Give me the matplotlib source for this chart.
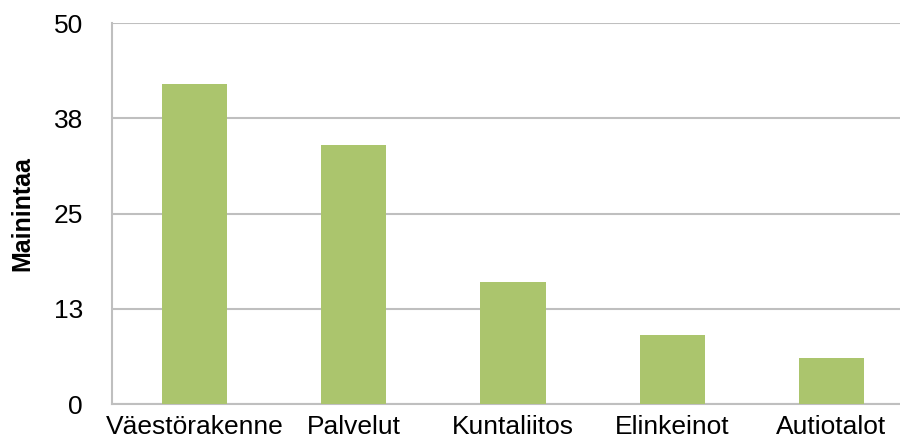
import numpy
from matplotlib import pyplot as plt

categories = ['Väestörakenne', 'Palvelut', 'Kuntaliitos', 'Elinkeinot', 'Autiotalot']
mentions = [42, 34, 16, 9, 6]
y_ticks = [0, 12.5, 25, 37.5, 50]
y_tick_labels = ['0', '13', '25', '38', '50']

plt.rcParams['font.family'] = ['Liberation Sans', 'DejaVu Sans']

fig = plt.figure(figsize=(9, 4.41), dpi=100)
ax = fig.add_axes([0.1244, 0.0839, 0.8756, 0.8639])

x = numpy.arange(len(categories))
ax.bar(x, mentions, width=0.41, color='#abc56d', zorder=3)

ax.set_ylim(0, 50)
ax.set_xlim(-0.518, 4.43)
ax.set_yticks(y_ticks)
ax.set_yticklabels(y_tick_labels)
ax.set_xticks(x)
ax.set_xticklabels(categories)
ax.tick_params(axis='both', length=0, labelsize=19, colors='black')
ax.tick_params(axis='y', pad=21)
ax.tick_params(axis='x', pad=8)

ax.grid(axis='y', color='#bfbfbf', linewidth=1.5, zorder=0)
for side in ['top', 'right']:
    ax.spines[side].set_visible(False)
ax.spines['left'].set_color('#bfbfbf')
ax.spines['left'].set_linewidth(1.5)
ax.spines['bottom'].set_color('#bfbfbf')
ax.spines['bottom'].set_linewidth(1.5)

ax.set_ylabel('Mainintaa', fontsize=18, fontweight='bold', labelpad=14)

plt.savefig('out.png', dpi=100)
